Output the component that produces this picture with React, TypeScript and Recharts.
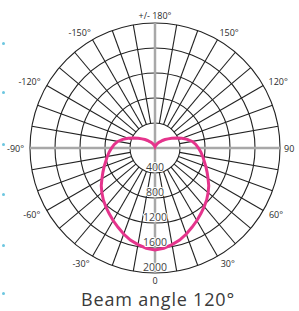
import React from "react";
import { RadarChart, Radar, PolarGrid, PolarAngleAxis, PolarRadiusAxis } from "recharts";

// photometric curve: 0 = straight down, 90 = horizontal right, +/-180 = straight up
const angles = [
  -175, -170, -165, -160, -155, -150, -145, -140, -135, -130, -125, -120, -115, -110, -105, -100, -95, -90,
  -85, -80, -75, -70, -65, -60, -55, -50, -45, -40, -35, -30, -25, -20, -15, -10, -5,
  0, 5, 10, 15, 20, 25, 30, 35, 40, 45, 50, 55, 60, 65, 70, 75, 80, 85, 90,
  95, 100, 105, 110, 115, 120, 125, 130, 135, 140, 145, 150, 155, 160, 165, 170, 175, 180,
];
const intensity = [
  26, 32, 40, 52, 70, 90, 110, 135, 170, 210, 255, 310, 380, 455, 535, 605, 655, 695,
  735, 775, 815, 865, 920, 980, 1050, 1110, 1170, 1225, 1280, 1340, 1400, 1465, 1525, 1570, 1610,
  1630, 1610, 1570, 1525, 1465, 1400, 1340, 1280, 1225, 1170, 1110, 1050, 980, 920, 865, 815, 775, 735, 695,
  655, 605, 535, 455, 380, 310, 255, 210, 170, 135, 110, 90, 70, 52, 40, 32, 26, 21,
];
// spokes every 10 degrees, labels every 30
const spokeAngles = [
  -170, -160, -150, -140, -130, -120, -110, -100, -90, -80, -70, -60, -50, -40, -30, -20, -10,
  0, 10, 20, 30, 40, 50, 60, 70, 80, 90, 100, 110, 120, 130, 140, 150, 160, 170, 180,
];
const radiusTicks = [400, 800, 1200, 1600, 2000];
const maxValue = 2000;
const title = "Beam angle 120°";

const data = angles.map((angle, i) => ({ angle, cd: intensity[i] }));

const W = 299;
const H = 311;
const CX = 155;
const CY = 148;
const OUTER = 125;
const INNER = (OUTER * radiusTicks[0]) / maxValue;
const FONT = "'Open Sans', sans-serif";

const angleLabel = (a: number) => {
  if (a === 180) return "+/- 180°";
  if (a === 0) return "0";
  if (a === 90) return "90";
  return `${a}°`;
};

const AngleTick = (props: any) => {
  const v = Number(props.payload?.value);
  if (v % 30 !== 0) return <g />;
  const len = Math.hypot(props.x - CX, props.y - CY) || 1;
  const dx = (props.x - CX) / len;
  const dy = (props.y - CY) / len;
  const text = angleLabel(v);
  const w = text.length * 5.2;
  const x = CX + dx * (OUTER + 4) + (dx * w) / 2 + Math.sign(dx) * 5 * Math.abs(dy);
  const y = CY + dy * (OUTER + 8) - (dy > 0.99 ? 0.5 : 0);
  return (
    <text x={x} y={y} textAnchor="middle" dominantBaseline="central" fontSize={9} fill="#2a2a2a" fontFamily={FONT}>
      {text}
    </text>
  );
};

const RadiusTick = (props: any) => (
  <text
    x={props.x}
    y={props.y - 6}
    textAnchor="middle"
    dominantBaseline="central"
    fontSize={10.5}
    fill="#444"
    stroke="#fff"
    strokeWidth={2}
    paintOrder="stroke"
    fontFamily={FONT}
  >
    {props.payload?.value}
  </text>
);

const layer: React.CSSProperties = { position: "absolute", left: 0, top: 0 };

const chartProps = {
  width: W,
  height: H,
  cx: CX,
  cy: CY,
  outerRadius: OUTER,
  startAngle: -270,
  endAngle: 90,
  data,
  margin: { top: 0, right: 0, bottom: 0, left: 0 },
};

export default function App() {
  return (
    <div style={{ position: "absolute", left: 0, top: 0, width: W, height: H, background: "#fff", overflow: "hidden" }}>
      {/* spokes start at the first ring */}
      <div style={layer}>
        <RadarChart {...chartProps} innerRadius={INNER}>
          <PolarGrid gridType="circle" polarRadius={[]} stroke="#222" strokeWidth={1.1} />
          <PolarAngleAxis
            dataKey="angle"
            type="number"
            domain={[-180, 180]}
            ticks={spokeAngles}
            axisLine={false}
            tickLine={false}
            tick={<AngleTick />}
          />
        </RadarChart>
      </div>

      {/* rings, axis cross and the curve */}
      <div style={layer}>
        <RadarChart {...chartProps} innerRadius={0}>
          <PolarGrid gridType="circle" radialLines={false} stroke="#222" strokeWidth={1.1} />
          <PolarGrid gridType="circle" polarRadius={[]} polarAngles={[-90, 0, 90, 180]} stroke="#a8a8a8" strokeWidth={2.5} />
          <PolarAngleAxis dataKey="angle" type="number" domain={[-180, 180]} ticks={spokeAngles} tick={false} axisLine={false} tickLine={false} />
          <PolarRadiusAxis
            angle={-90}
            domain={[0, maxValue]}
            ticks={radiusTicks}
            axisLine={false}
            tickLine={false}
            tick={<RadiusTick />}
          />
          <Radar dataKey="cd" stroke="#e5348c" strokeWidth={3} fill="none" fillOpacity={0} dot={false} isAnimationActive={false} />
        </RadarChart>
      </div>

      {[42, 91, 143, 193, 244, 292].map((y) => (
        <div key={y} style={{ position: "absolute", left: 2, top: y, width: 3, height: 3, borderRadius: 2, background: "#6cc6e0" }} />
      ))}

      <div
        style={{
          position: "absolute",
          left: 0,
          top: 292,
          width: 316,
          textAlign: "center",
          fontFamily: FONT,
          fontSize: 18,
          letterSpacing: "0.8px",
          color: "#3a3a3a",
          lineHeight: "14px",
          whiteSpace: "nowrap",
        }}
      >
        {title}
      </div>
    </div>
  );
}
